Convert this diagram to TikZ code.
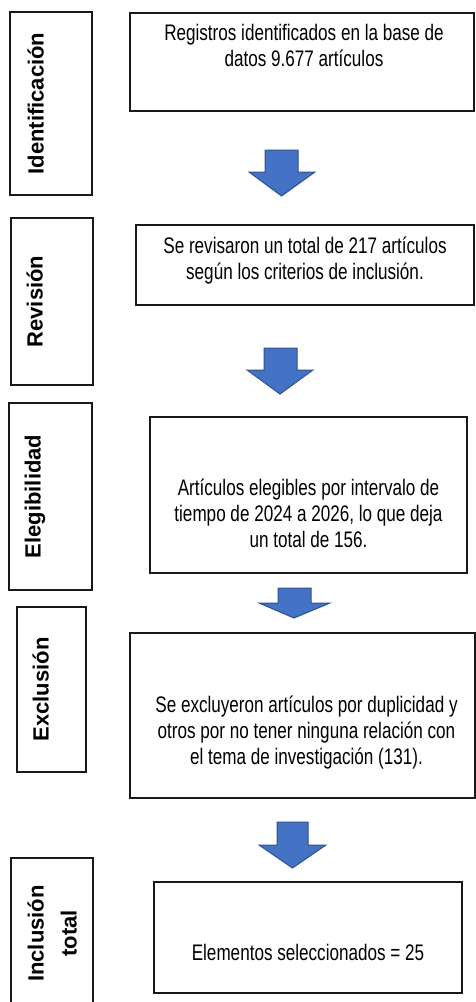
\documentclass[tikz,border=0pt]{standalone}
\usepackage{fontspec}
\setmainfont{Liberation Sans}
\newfontfamily\narrowfont{Liberation Sans}[FakeStretch=0.76]
\usepackage{tikz}
\usetikzlibrary{positioning, calc}
\definecolor{arrowblue}{HTML}{4472C4}
\definecolor{arrowedge}{HTML}{2F528F}

\begin{document}
\begin{tikzpicture}[
    x=1pt, y=-1pt,
    labbox/.style={draw=black!90, line width=1.2pt, inner sep=0pt},
    labtxt/.style={rotate=90, anchor=north, inner sep=0pt, align=center,
        font=\fontsize{22}{33}\selectfont\bfseries},
    stagebox/.style={draw=black!90, line width=1.2pt, inner sep=0pt},
    stagetxt/.style={inner sep=0pt, align=center,
        font=\narrowfont\fontsize{22.5}{26}\selectfont},
    blockarrow/.style={fill=arrowblue, draw=arrowedge, line width=1pt, line join=miter}
]
\useasboundingbox (0,0) rectangle (475,1002);

% etapas (izquierda)
\node[labbox, minimum width=82pt, minimum height=183pt] (l1) at (51,103.5) {};
\node[labbox, minimum width=82pt, minimum height=167pt] (l2) at (52,301.5) {};
\node[labbox, minimum width=83pt, minimum height=187pt] (l3) at (50.5,496.5) {};
\node[labbox, minimum width=69pt, minimum height=165pt] (l4) at (51.5,689.5) {};
\node[labbox, minimum width=82pt, minimum height=151pt] (l5) at (52,933.5) {};

\node[labtxt] (n1) at ([xshift=18pt]l1.west) {Identificación};
\node[labtxt] (n2) at ([xshift=16pt]l2.west) {Revisión};
\node[labtxt] (n3) at ([xshift=16pt]l3.west) {Elegibilidad};
\node[labtxt] (n4) at ([xshift=16pt]l4.west) {Exclusión};
\node[labtxt] (n5) at ([xshift=17pt]l5.west) {Inclusión\\total};

% cajas de contenido
\node[stagebox, minimum width=344pt, minimum height=98pt] (b1) at (302,62) {};
\node[stagebox, minimum width=338pt, minimum height=80pt] (b2) at (305,265) {};
\node[stagebox, minimum width=317pt, minimum height=156pt] (b3) at (308.5,495) {};
\node[stagebox, minimum width=345pt, minimum height=165pt] (b4) at (302.5,715.5) {};
\node[stagebox, minimum width=308pt, minimum height=111pt] (b5) at (308,937.5) {};

\node[stagetxt] (t1) at (304,45) {Registros identificados en la base de\\datos 9.677 artículos};
\node[stagetxt] (t2) at (305,261) {Se revisaron un total de 217 artículos\\según los criterios de inclusión.};
\node[stagetxt] (t3) at (308.5,513.5) {Artículos elegibles por intervalo de\\tiempo de 2024 a 2026, lo que deja\\un total de 156.};
\node[stagetxt] (t4) at (306.5,733) {Se excluyeron artículos por duplicidad y\\otros por no tener ninguna relación con\\el tema de investigación (131).};
\node[stagetxt, anchor=base] (t5) at (308,960) {Elementos seleccionados = 25};

% flechas de bloque
\draw[blockarrow] (265,150) -- (298,150) -- (298,172) -- (315,172) -- (281.5,196) -- (249,172) -- (265,172) -- cycle;
\draw[blockarrow] (264,348) -- (297,348) -- (297,370) -- (313,370) -- (280,394) -- (247,370) -- (264,370) -- cycle;
\draw[blockarrow] (278,588) -- (311,588) -- (311,603) -- (330,603) -- (294,618) -- (259,603) -- (278,603) -- cycle;
\draw[blockarrow] (277,822) -- (308,822) -- (308,845) -- (326,845) -- (292.5,868) -- (259,845) -- (277,845) -- cycle;

\end{tikzpicture}
\end{document}
